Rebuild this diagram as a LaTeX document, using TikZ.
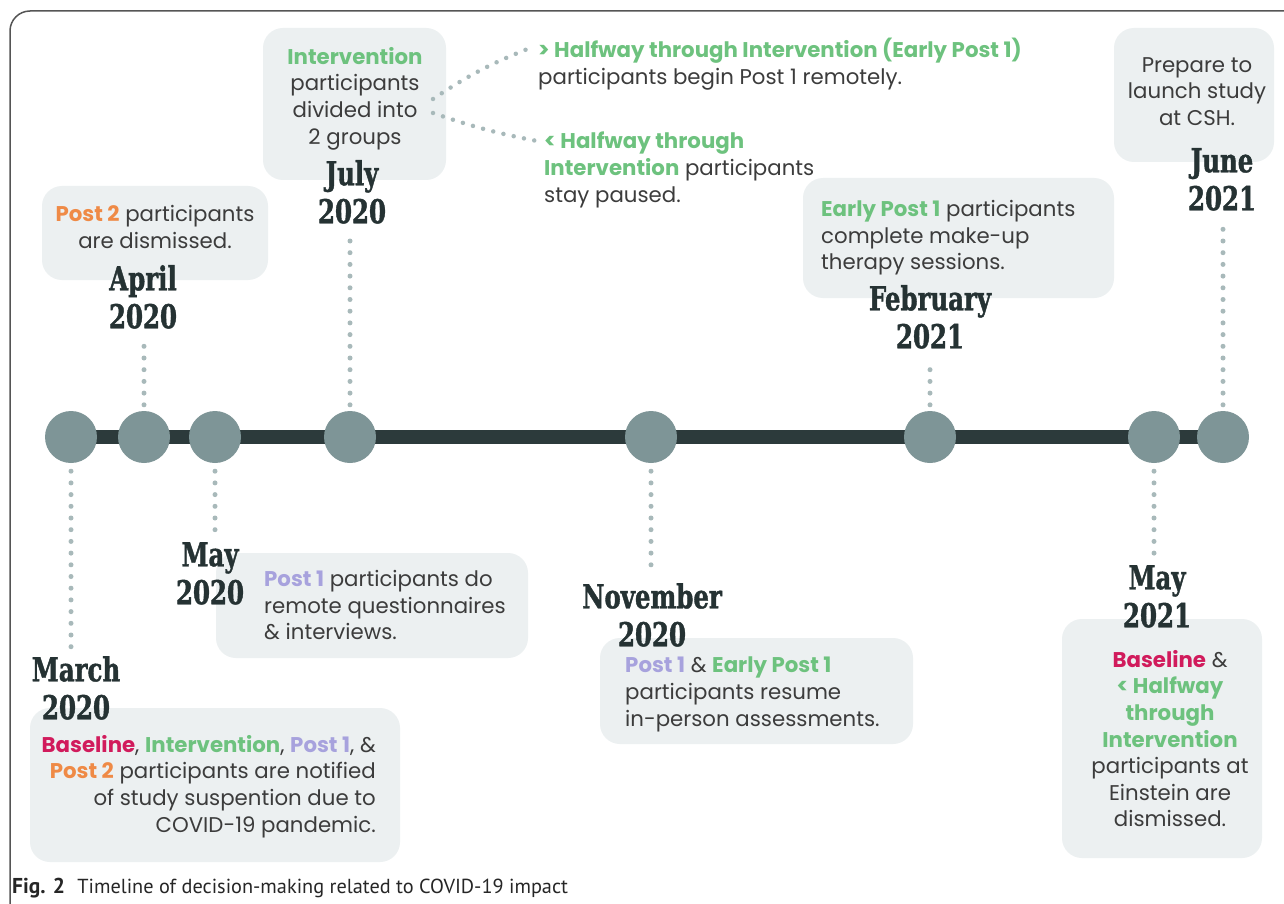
\documentclass[tikz,border=0pt]{standalone}
\usepackage{fontspec}
\newfontfamily\bodyf{Poppins}
\newfontfamily\monthf[FakeStretch=0.74, BoldFeatures={FakeBold=1.2}]{DejaVu Serif}
\newfontfamily\capf{PT Sans}
\definecolor{boxfill}{HTML}{ECF0F1}
\definecolor{circc}{HTML}{7E9597}
\definecolor{barc}{HTML}{2C3A3B}
\definecolor{dotc}{HTML}{A8B9BA}
\definecolor{monthc}{HTML}{253233}
\definecolor{txt}{HTML}{3C3C3C}
\definecolor{grn}{HTML}{6DC27E}
\definecolor{mag}{HTML}{D11B5C}
\definecolor{lav}{HTML}{A7A2DD}
\definecolor{org}{HTML}{EF8A46}
\definecolor{framec}{HTML}{555555}
\newcommand{\G}[1]{\textcolor{grn}{\bfseries #1}}
\newcommand{\M}[1]{\textcolor{mag}{\bfseries #1}}
\newcommand{\Lv}[1]{\textcolor{lav}{\bfseries #1}}
\newcommand{\Or}[1]{\textcolor{org}{\bfseries #1}}
\begin{document}
\begin{tikzpicture}[x=1pt,y=-1pt,
  evbox/.style={fill=boxfill, rounded corners=20pt, draw=none, inner sep=0pt},
  body/.style={font=\bodyf\fontsize{21.3}{26.6}\selectfont, text=txt, inner sep=0pt},
  month/.style={font=\monthf\bfseries\fontsize{33}{38}\selectfont, text=monthc, align=center, inner sep=0pt},
  dotline/.style={draw=dotc, line width=5pt, line cap=round, dash pattern=on 0pt off 11.7pt},
  bar/.style={draw=barc, line width=14pt},
  event/.style={circle, fill=circc, minimum size=52pt, inner sep=0pt},
]
\useasboundingbox (0,0) rectangle (1284,904);
\fill[white] (0,0) rectangle (1284,904);
\draw[line width=1.5pt, draw=framec, rounded corners=20pt] (1284,11) -- (10,11) -- (10,904);

% boxes
\node[evbox, minimum width=183pt, minimum height=152pt] (julbox) at (354.5,104) {};
\node[evbox, minimum width=226pt, minimum height=94pt] (aprbox) at (155,233) {};
\node[evbox, minimum width=311pt, minimum height=120pt] (febbox) at (958.5,238) {};
\node[evbox, minimum width=160pt, minimum height=134pt] (junbox) at (1194,95) {};
\node[evbox, minimum width=312pt, minimum height=105pt] (maybox) at (372,605.5) {};
\node[evbox, minimum width=370pt, minimum height=154pt] (marbox) at (215,785) {};
\node[evbox, minimum width=313pt, minimum height=106pt] (novbox) at (756.5,691) {};
\node[evbox, minimum width=200pt, minimum height=239pt] (mayybox) at (1162,738.5) {};

% timeline
\coordinate (p1) at (71,437);
\coordinate (p2) at (144,437);
\coordinate (p3) at (215,437);
\coordinate (p4) at (350,437);
\coordinate (p5) at (651,437);
\coordinate (p6) at (930,437);
\coordinate (p7) at (1154,437);
\coordinate (p8) at (1223,437);
\draw[bar] (p1) -- (p8);
\node[event] (c1) at (p1) {};
\node[event] (c2) at (p2) {};
\node[event] (c3) at (p3) {};
\node[event] (c4) at (p4) {};
\node[event] (c5) at (p5) {};
\node[event] (c6) at (p6) {};
\node[event] (c7) at (p7) {};
\node[event] (c8) at (p8) {};

% month labels
\node[month, anchor=north] (marl) at (76,656) {March\\2020};
\node[month, anchor=north] (aprl) at (143,265) {April\\2020};
\node[month, anchor=north] (mayl) at (210,542) {May\\2020};
\node[month, anchor=north] (jull) at (352,160) {July\\2020};
\node[month, anchor=north] (novl) at (652,583) {November\\2020};
\node[month, anchor=north] (febl) at (930,285) {February\\2021};
\node[month, anchor=north] (mayyl) at (1157,565) {May\\2021};
\node[month, anchor=north] (junl) at (1222,148) {June\\2021};

% dotted connectors
\draw[dotline, shorten <=8pt, shorten >=4pt] (c1.south) -- (c1.south |- marl.north);
\draw[dotline, shorten <=6pt, shorten >=12pt] (c2.north) -- (c2.north |- aprl.south);
\draw[dotline, shorten <=8pt, shorten >=8pt] (c3.south) -- (c3.south |- mayl.north);
\draw[dotline, shorten <=6pt, shorten >=10pt] (c4.north) -- (c4.north |- jull.south);
\draw[dotline, shorten <=8pt, shorten >=8pt] (c5.south) -- (c5.south |- novl.north);
\draw[dotline, shorten <=6pt, shorten >=12pt] (c6.north) -- (c6.north |- febl.south);
\draw[dotline, shorten <=8pt, shorten >=8pt] (c7.south) -- (c7.south |- mayyl.north);
\draw[dotline, shorten <=6pt, shorten >=10pt] (c8.north) -- (c8.north |- junl.south);

% texts
\node[body, anchor=north, align=center] (jult) at (355,47) {\G{Intervention}\\participants\\divided into\\2 groups};
\node[body, anchor=north, align=center] (aprt) at (155,205) {\Or{Post 2} participants\\are dismissed.};
\node[body, anchor=north west, align=left] (febt) at (821,200) {\G{Early Post 1} participants\\complete make-up\\therapy sessions.};
\node[body, anchor=north, align=center] (junt) at (1197,57) {Prepare to\\launch study\\at CSH.};
\node[body, anchor=north west, align=left] (mayt) at (264,570) {\Lv{Post 1} participants do\\remote questionnaires\\\& interviews.};
\node[body, anchor=north east, align=right] (mart) at (376,735) {\M{Baseline}, \G{Intervention}, \Lv{Post 1}, \&\\\Or{Post 2} participants are notified\\of study suspention due to\\COVID-19 pandemic.};
\node[body, anchor=north west, align=left] (novt) at (625,657) {\Lv{Post 1} \& \G{Early Post 1}\\participants resume\\in-person assessments.};
\node[body, anchor=north, align=center] (mayyt) at (1170,650) {\M{Baseline} \&\\\G{< Halfway}\\\G{through}\\\G{Intervention}\\participants at\\Einstein are\\dismissed.};
\node[body, anchor=north west, align=left] (hwa) at (538,38) {\G{> Halfway through Intervention (Early Post 1)}\\participants begin Post 1 remotely.};
\node[body, anchor=north west, align=left] (hwb) at (544,132) {\G{< Halfway through}\\\G{Intervention} participants\\stay paused.};

% split connectors
\coordinate (sa) at (433,99);
\coordinate (sb) at (433,113);
\draw[dotline, line width=4.5pt, dash pattern=on 0pt off 10.5pt] (sa) to[bend left=6] ([xshift=-8pt,yshift=-10pt]hwa.north west);
\draw[dotline, line width=4.5pt, dash pattern=on 0pt off 10.5pt] (sb) to[bend right=4] ([xshift=-7pt,yshift=-9pt]hwb.north west);

% caption
\node[anchor=base west, inner sep=0pt, font=\capf\fontsize{20.3}{23}\selectfont, text=black!85] (cap) at (12,893) {\textbf{\fontsize{21.5}{23}\selectfont Fig. 2}\hspace{0.6em}Timeline of decision-making related to COVID-19 impact};
\end{tikzpicture}
\end{document}
